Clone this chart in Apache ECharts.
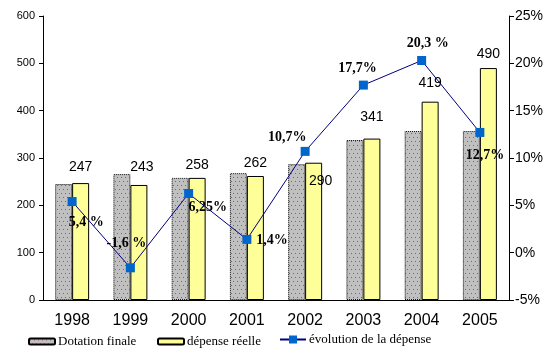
<!DOCTYPE html>
<html>
<head>
<meta charset="utf-8">
<script src="https://cdn.jsdelivr.net/npm/echarts@6/dist/echarts.min.js"></script>
<style>html,body{margin:0;padding:0;background:#fff}#c{width:552px;height:359px}</style>
</head>
<body>
<div id="c"></div>
<script>
const categories = ['1998','1999','2000','2001','2002','2003','2004','2005'];
const dotationFinale = [245, 266, 258, 268, 287, 338, 357, 357];
const depenseReelle = [247, 243, 258, 262, 290, 341, 419, 490];
const evolution = [5.4, -1.6, 6.25, 1.4, 10.7, 17.7, 20.3, 12.7];
const evolutionLabels = ['5,4 %', '-1,6 %', '6,25%', '1,4%', '10,7%', '17,7%', '20,3 %', '12,7%'];
const seriesNames = ['Dotation finale', 'dépense réelle', 'évolution de la dépense'];

// label placement (style only)
const barLabelOffsets = [[0,-4],[3,-6],[0,-1],[0,-1],[7,30],[0,-9],[0,-7],[0,-2]];
const lineLabelOffsets = [[14,21],[-4,-24],[19,14],[25,1],[-18,-14],[-6,-17],[6,-17],[5,23]];

const pc = document.createElement('canvas');
pc.width = 4; pc.height = 8;
const g = pc.getContext('2d');
g.fillStyle = '#C0C0C0'; g.fillRect(0,0,4,8);
g.fillStyle = '#A0507A'; g.fillRect(1,1,1,1); g.fillRect(3,5,1,1);

const chart = echarts.init(document.getElementById('c'), null, {renderer:'canvas'});
const axisFont = {fontFamily:'Liberation Sans', fontSize:13, color:'#000'};
const legendText = {fontFamily:'Liberation Serif', fontSize:13, color:'#000', padding:[0,0,0,-2]};
chart.setOption({
  animation:false,
  backgroundColor:'#fff',
  grid:{left:43, right:43, top:16, bottom:59},
  legend:[
    {data:[seriesNames[0]], left:23, top:330, itemWidth:26, itemHeight:6, textStyle:legendText},
    {data:[seriesNames[1]], left:152, top:330, itemWidth:26, itemHeight:6, textStyle:legendText},
    {data:[seriesNames[2]], left:274, top:328, itemWidth:26, itemHeight:10, textStyle:legendText}
  ],
  xAxis:{
    type:'category', data:categories, boundaryGap:true,
    axisLine:{lineStyle:{color:'#000', width:1}},
    axisTick:{length:5, lineStyle:{color:'#000'}},
    axisLabel:Object.assign({}, axisFont, {margin:13, fontSize:16}),
    splitLine:{show:false}
  },
  yAxis:[
    {type:'value', min:0, max:600, interval:100,
     axisLine:{show:true, lineStyle:{color:'#000'}},
     axisTick:{show:true, length:4, lineStyle:{color:'#000'}},
     axisLabel:Object.assign({}, axisFont, {margin:8, fontSize:11}),
     splitLine:{show:false}},
    {type:'value', min:-5, max:25, interval:5, position:'right',
     axisLine:{show:true, lineStyle:{color:'#000'}},
     axisTick:{show:true, length:5, lineStyle:{color:'#000'}},
     axisLabel:Object.assign({}, axisFont, {margin:6, fontSize:14, formatter:'{value}%'}),
     splitLine:{show:false}}
  ],
  series:[
    {name:seriesNames[0], type:'bar', data:dotationFinale, barWidth:17, barGap:'0%',
     itemStyle:{color:{image:pc, repeat:'repeat'}, borderColor:'#000', borderWidth:1, borderType:[1,1]}},
    {name:seriesNames[1], type:'bar', data:depenseReelle.map((v,i)=>({value:v, label:{offset:barLabelOffsets[i]}})), barWidth:17,
     itemStyle:{color:'#FFFF99', borderColor:'#000', borderWidth:1},
     label:{show:true, position:'top', distance:5, fontFamily:'Liberation Sans', fontSize:14, color:'#000'}},
    {name:seriesNames[2], type:'line', yAxisIndex:1, data:evolution.map((v,i)=>({value:v, label:{offset:lineLabelOffsets[i], formatter:evolutionLabels[i]}})),
     symbol:'rect', symbolSize:9, lineStyle:{color:'#000080', width:1}, itemStyle:{color:'#0066CC'},
     label:{show:true, position:'inside', fontFamily:'Liberation Serif', fontWeight:'bold', fontSize:14, color:'#000'}, z:5}
  ]
});
</script>
</body>
</html>
